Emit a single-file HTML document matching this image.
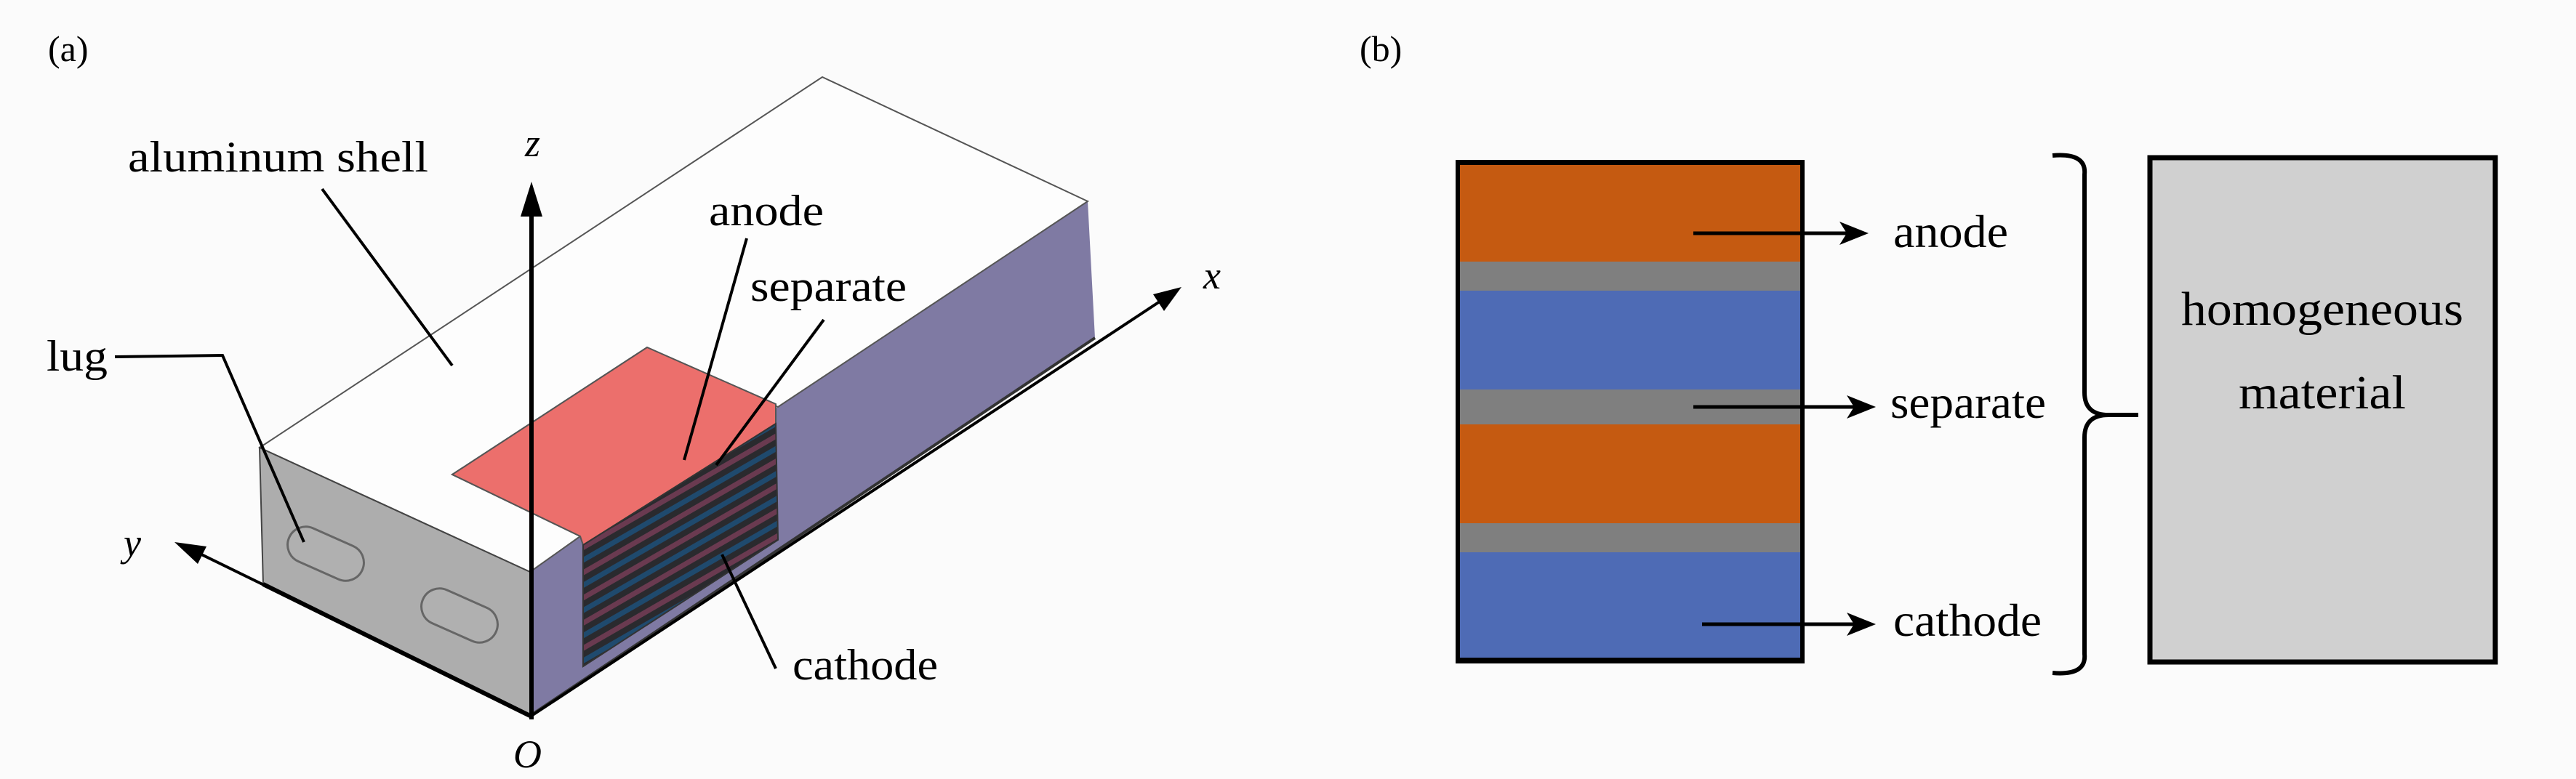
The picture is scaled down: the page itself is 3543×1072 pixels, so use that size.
<!DOCTYPE html>
<html><head><meta charset="utf-8"><style>
html,body{margin:0;padding:0;background:#fbfbfb;}
svg{display:block;}
text{font-family:"Liberation Serif","Times New Roman","DejaVu Serif",serif;fill:#000;}
</style></head><body>
<svg width="3543" height="1072" viewBox="0 0 3543 1072" xmlns="http://www.w3.org/2000/svg" font-family="'Liberation Serif','Times New Roman','DejaVu Serif',serif">
<defs>
<pattern id="stk" patternUnits="userSpaceOnUse" width="40" height="30" patternTransform="rotate(-30)">
<rect width="40" height="30" fill="#2a2a2e"/>
<rect y="0" width="40" height="7" fill="#6a3a50"/>
<rect y="15" width="40" height="7" fill="#1f4a6e"/>
</pattern>
</defs>
<rect width="3543" height="1072" fill="#fbfbfb"/>

<text x="66" y="84" font-size="50" font-family="Liberation Serif, serif">(a)</text>

<polygon points="1496,277 1506,465 731,985 729,787 798,738 1070,560" fill="#7f7aa3"/>
<polygon points="357,616 1131,106 1496,277 1070,560 890,478 622,653 798,738 729,787" fill="#fdfdfd" stroke="#555" stroke-width="2"/>
<polygon points="357,616 729,787 729,985 362,804" fill="#adadad" stroke="#444" stroke-width="2"/>
<line x1="362" y1="804" x2="729" y2="985" stroke="#000" stroke-width="6"/>
<rect x="393" y="737" width="110" height="50" rx="25" fill="#b0b0b0" stroke="#666" stroke-width="3" transform="rotate(24 448 762)"/>
<rect x="577" y="822" width="110" height="50" rx="25" fill="#b0b0b0" stroke="#666" stroke-width="3" transform="rotate(24 632 847)"/>
<polygon points="622,653 890,478 1067,556 1067,583 802,750 798,738" fill="#ec6f6c" stroke="#555" stroke-width="2"/>
<polygon points="802,750 1067,583 1070,743 802,917" fill="url(#stk)" stroke="#333" stroke-width="2"/>
<line x1="729" y1="985" x2="1506" y2="465" stroke="#333" stroke-width="4"/>

<line x1="731" y1="990" x2="731" y2="290" stroke="#000" stroke-width="6"/>
<polygon points="731,250 716,298 746,298" fill="#000"/>
<line x1="731" y1="985" x2="275" y2="762" stroke="#000" stroke-width="4"/>
<polygon points="240,746 284,752 272,776" fill="#000"/>
<line x1="731" y1="985" x2="1595" y2="415" stroke="#000" stroke-width="4"/>
<polygon points="1625,395 1586,405 1601,428" fill="#000"/>
<text x="722" y="215" font-size="54" font-style="italic" font-family="Liberation Serif, serif">z</text>
<text x="1655" y="397" font-size="54" font-style="italic" font-family="Liberation Serif, serif">x</text>
<text x="170" y="765" font-size="54" font-style="italic" font-family="Liberation Serif, serif">y</text>
<text x="706" y="1056" font-size="54" font-style="italic" font-family="Liberation Serif, serif">O</text>

<text x="176" y="236" font-size="60" font-family="Liberation Serif, serif" textLength="413" lengthAdjust="spacingAndGlyphs">aluminum shell</text>
<line x1="443" y1="260" x2="622" y2="503" stroke="#000" stroke-width="4"/>
<text x="64" y="510" font-size="60" font-family="Liberation Serif, serif" textLength="84" lengthAdjust="spacingAndGlyphs">lug</text>
<polyline points="158,491 306,489 418,746" fill="none" stroke="#000" stroke-width="4"/>
<text x="975" y="310" font-size="60" font-family="Liberation Serif, serif" textLength="158" lengthAdjust="spacingAndGlyphs">anode</text>
<line x1="1027" y1="328" x2="941" y2="633" stroke="#000" stroke-width="4"/>
<text x="1032" y="414" font-size="60" font-family="Liberation Serif, serif" textLength="215" lengthAdjust="spacingAndGlyphs">separate</text>
<line x1="1133" y1="440" x2="985" y2="640" stroke="#000" stroke-width="4"/>
<text x="1090" y="935" font-size="60" font-family="Liberation Serif, serif" textLength="200" lengthAdjust="spacingAndGlyphs">cathode</text>
<line x1="1067" y1="920" x2="993" y2="763" stroke="#000" stroke-width="4"/>

<text x="1870" y="84" font-size="50" font-family="Liberation Serif, serif">(b)</text>
<rect x="2002" y="220" width="480" height="693" fill="#000"/>
<rect x="2008" y="227" width="468" height="133" fill="#c55a11"/>
<rect x="2008" y="360" width="468" height="40" fill="#7f7f7f"/>
<rect x="2008" y="400" width="468" height="136" fill="#4e6bb5"/>
<rect x="2008" y="536" width="468" height="48" fill="#7f7f7f"/>
<rect x="2008" y="584" width="468" height="136" fill="#c55a11"/>
<rect x="2008" y="720" width="468" height="40" fill="#7f7f7f"/>
<rect x="2008" y="760" width="468" height="145" fill="#4e6bb5"/>

<line x1="2329" y1="321" x2="2540" y2="321" stroke="#000" stroke-width="5"/>
<polygon points="2570,321 2530,305 2540,321 2530,337" fill="#000"/>
<line x1="2329" y1="560" x2="2550" y2="560" stroke="#000" stroke-width="5"/>
<polygon points="2580,560 2540,544 2550,560 2540,576" fill="#000"/>
<line x1="2341" y1="859" x2="2550" y2="859" stroke="#000" stroke-width="5"/>
<polygon points="2580,859 2540,843 2550,859 2540,875" fill="#000"/>
<text x="2604" y="340" font-size="64" font-family="Liberation Serif, serif" textLength="158" lengthAdjust="spacingAndGlyphs">anode</text>
<text x="2600" y="575" font-size="64" font-family="Liberation Serif, serif" textLength="214" lengthAdjust="spacingAndGlyphs">separate</text>
<text x="2604" y="875" font-size="64" font-family="Liberation Serif, serif" textLength="204" lengthAdjust="spacingAndGlyphs">cathode</text>

<path d="M2823,214 Q2870,210 2867,240 L2867,540 Q2867,571 2900,571 L2941,571 M2900,571 Q2867,571 2867,602 L2867,900 Q2870,930 2823,926" fill="none" stroke="#000" stroke-width="6"/>

<rect x="2957" y="217" width="475" height="694" fill="#d0d0d0" stroke="#000" stroke-width="7"/>
<text x="3194" y="447" font-size="66" font-family="Liberation Serif, serif" text-anchor="middle" textLength="388" lengthAdjust="spacingAndGlyphs">homogeneous</text>
<text x="3194" y="562" font-size="66" font-family="Liberation Serif, serif" text-anchor="middle" textLength="230" lengthAdjust="spacingAndGlyphs">material</text>
</svg>
</body></html>
